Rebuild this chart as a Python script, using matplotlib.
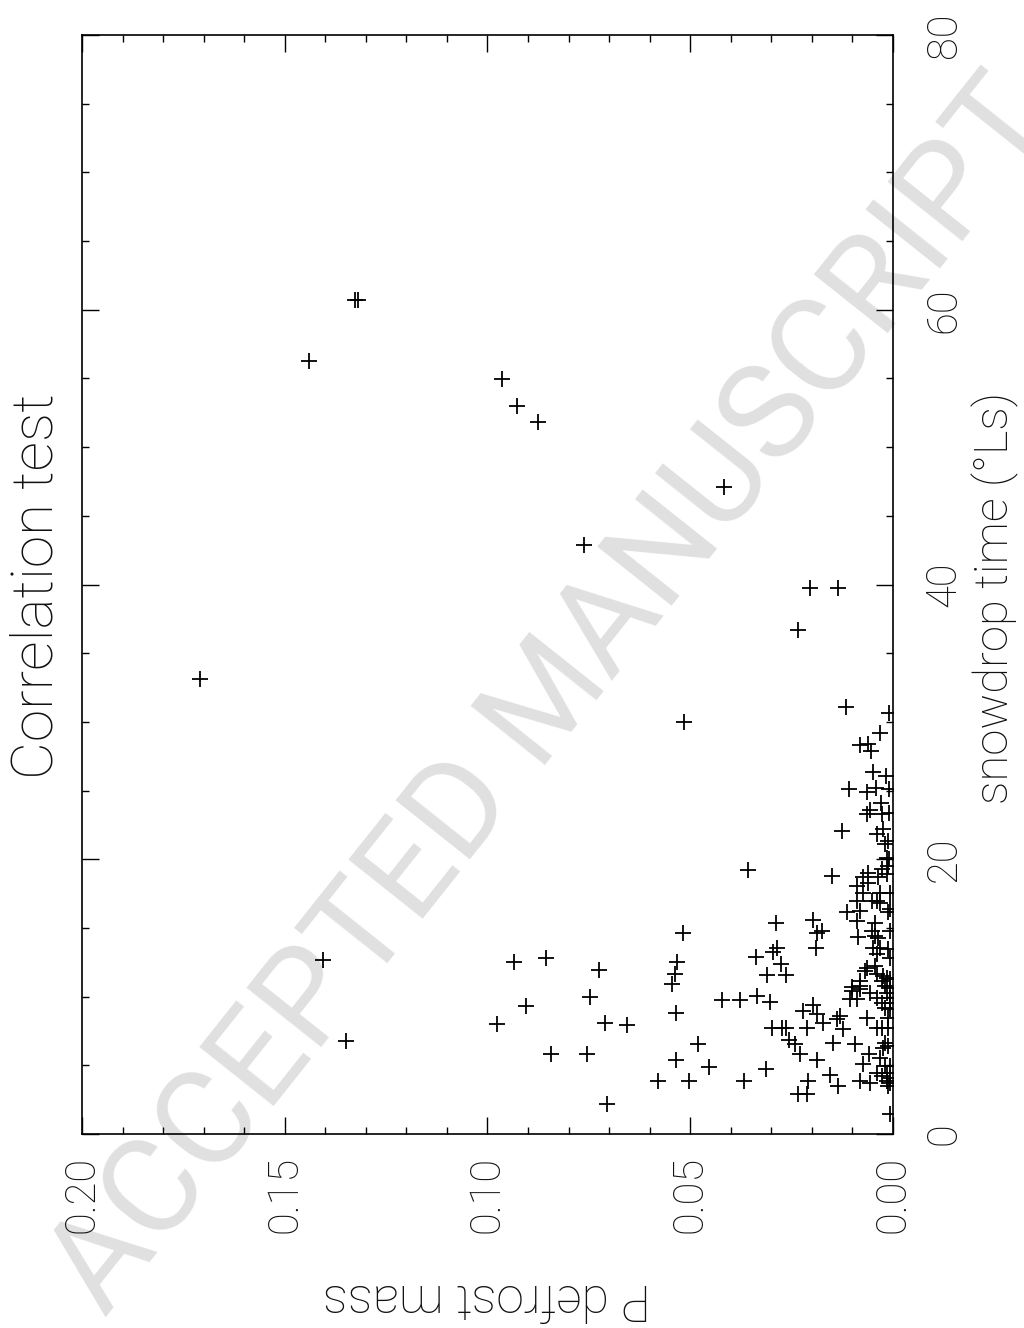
import matplotlib
matplotlib.use('Agg')
import matplotlib.pyplot as plt
from matplotlib.ticker import MultipleLocator, FormatStrFormatter

# P defrost mass (horizontal axis, drawn right-to-left) and snowdrop time (°Ls)
mass = [
    0.1709, 0.1440, 0.1327, 0.1319, 0.0964, 0.0927, 0.0875, 0.0417, 0.0762, 0.0205,
    0.0136, 0.0234, 0.0116, 0.0515, 0.0358, 0.1406, 0.1349,
    0.0935, 0.0856, 0.0725, 0.0747, 0.0905, 0.0977, 0.0710, 0.0656, 0.0843, 0.0755, 0.0705,
    0.0518, 0.0533, 0.0538, 0.0545, 0.0422, 0.0377, 0.0535, 0.0481, 0.0535, 0.0454,
    0.0580, 0.0503, 0.0367,
    0.0289, 0.0286, 0.0296, 0.0338, 0.0276, 0.0311, 0.0264, 0.0335, 0.0303,
    0.0298, 0.0274, 0.0264, 0.0256, 0.0242, 0.0229, 0.0313, 0.0234, 0.0212, 0.0210,
    0.0197, 0.0187, 0.0190, 0.0222, 0.0197, 0.0187, 0.0212, 0.0187,
    0.0010, 0.0032, 0.0081, 0.0062, 0.0054, 0.0049, 0.0017, 0.0109, 0.0064, 0.0042,
    0.0010, 0.0030, 0.0057, 0.0064, 0.0027, 0.0010, 0.0126, 0.0025, 0.0039, 0.0012,
    0.0020, 0.0010,
    0.0150, 0.0015, 0.0012, 0.0027, 0.0062, 0.0074, 0.0037, 0.0015, 0.0089, 0.0062,
    0.0074, 0.0032, 0.0007, 0.0089, 0.0052, 0.0039, 0.0032, 0.0007, 0.0113, 0.0081,
    0.0012, 0.0089, 0.0044, 0.0175, 0.0052, 0.0007, 0.0086, 0.0044, 0.0037, 0.0049,
    0.0032, 0.0012, 0.0039, 0.0007, 0.0064, 0.0044, 0.0069, 0.0039, 0.0025, 0.0015,
    0.0081, 0.0027, 0.0007, 0.0101, 0.0081, 0.0020, 0.0007,
    0.0101, 0.0081, 0.0057, 0.0039, 0.0015, 0.0007, 0.0106, 0.0089, 0.0027, 0.0007,
    0.0020, 0.0007, 0.0131, 0.0138, 0.0064, 0.0173, 0.0012, 0.0123, 0.0039, 0.0027,
    0.0012, 0.0148, 0.0094, 0.0020, 0.0012, 0.0025, 0.0059, 0.0032, 0.0074, 0.0020,
    0.0007, 0.0039, 0.0015, 0.0155, 0.0027, 0.0007, 0.0081, 0.0057, 0.0015, 0.0007,
    0.0136, 0.0012, 0.0007,
]
snow_time = [
    33.15, 56.25, 60.69, 60.69, 54.94, 52.97, 51.80, 47.07, 42.91, 39.78,
    39.78, 36.72, 31.11, 30.02, 19.24, 12.68, 6.78,
    12.53, 12.82, 11.95, 9.98, 9.33, 8.01, 8.09, 7.94, 5.83, 5.83, 2.19,
    14.65, 12.53, 11.66, 10.93, 9.76, 9.76, 8.82, 6.56, 5.39, 4.88,
    3.86, 3.86, 3.86,
    15.37, 13.55, 13.26, 12.90, 12.39, 11.58, 11.58, 10.05, 9.62,
    7.72, 7.72, 7.72, 6.85, 6.56, 5.83, 4.74, 2.91, 2.91, 3.86,
    15.59, 14.65, 13.55, 8.96, 9.40, 8.74, 7.72, 5.39,
    30.67, 29.22, 28.34, 28.42, 27.91, 26.38, 26.08, 25.14, 24.92, 25.21,
    25.14, 24.12, 23.61, 23.32, 23.32, 23.39, 22.08, 22.22, 21.86, 21.35,
    21.13, 20.04,
    18.80, 20.11, 19.53, 19.31, 19.02, 18.73, 18.73, 18.94, 18.07, 18.29,
    17.56, 17.56, 17.56, 16.98, 16.98, 16.98, 16.83, 16.39, 16.17, 16.25,
    16.17, 15.52, 15.37, 14.79, 14.79, 14.79, 14.35, 14.43, 14.28, 13.55,
    13.55, 13.48, 13.11, 12.82, 12.09, 12.24, 11.88, 11.66, 11.51, 11.37,
    11.15, 11.15, 11.29, 10.71, 10.78, 10.78, 10.64,
    10.42, 10.56, 10.27, 9.91, 10.27, 9.91, 9.84, 9.84, 9.54, 9.54,
    9.18, 9.11, 8.60, 8.38, 8.45, 8.09, 8.45, 7.65, 7.72, 7.72,
    7.72, 6.63, 6.56, 6.63, 6.41, 6.27, 5.83, 5.54, 5.10, 4.95,
    4.95, 4.44, 4.44, 4.30, 4.23, 4.08, 3.86, 3.72, 3.86, 3.72,
    3.50, 3.50, 1.46,
]

plt.rcParams['font.family'] = ['Roboto', 'DejaVu Sans']
plt.rcParams['font.weight'] = 'light'
plt.rcParams['text.color'] = '#111111'

fig = plt.figure(figsize=(10.24, 13.28), dpi=100)
fig.patch.set_facecolor('white')

# watermark behind everything
fig.text(0.54, 0.475, 'ACCEPTED MANUSCRIPT', rotation=51.5, color='#e0e0e0',
         fontsize=96, fontweight='normal', ha='center', va='center',
         rotation_mode='anchor', zorder=0)

ax = fig.add_axes([82 / 1024, 1 - 1134 / 1328, 811 / 1024, 1099 / 1328])
ax.set_zorder(1)
ax.patch.set_visible(False)

ax.plot(mass, snow_time, linestyle='none', marker='+', color='black',
        markersize=11, markeredgewidth=1.3)

ax.set_xlim(0.20, 0.0)
ax.set_ylim(0, 80)

ax.xaxis.set_major_locator(MultipleLocator(0.05))
ax.xaxis.set_minor_locator(MultipleLocator(0.01))
ax.xaxis.set_major_formatter(FormatStrFormatter('%.2f'))
ax.yaxis.set_major_locator(MultipleLocator(20))
ax.yaxis.set_minor_locator(MultipleLocator(5))

ax.tick_params(which='both', direction='in', top=True, bottom=True, left=True, right=True,
               labelleft=False, labelright=True, labelbottom=True, width=1.0,
               color='black', labelcolor='#111111')
ax.tick_params(which='major', length=12)
ax.tick_params(which='minor', length=5)
ax.tick_params(axis='x', which='major', labelsize=30, labelrotation=90, pad=16)
ax.tick_params(axis='y', which='major', labelsize=30, labelrotation=90, pad=22)
for lbl in ax.get_yticklabels():
    lbl.set_va('center')
for spine in ax.spines.values():
    spine.set_linewidth(1.2)

fig.text(37 / 1024, 1 - 586 / 1328, 'Correlation test', rotation=90,
         fontsize=42, ha='center', va='center')
fig.text(995 / 1024, 1 - 598 / 1328, 'snowdrop time (°Ls)', rotation=90,
         fontsize=34, ha='center', va='center')
fig.text(487 / 1024, 1 - 1298 / 1328, 'P defrost mass', rotation=180,
         fontsize=36, ha='center', va='center')

fig.savefig('out.png', dpi=100, facecolor='white')
